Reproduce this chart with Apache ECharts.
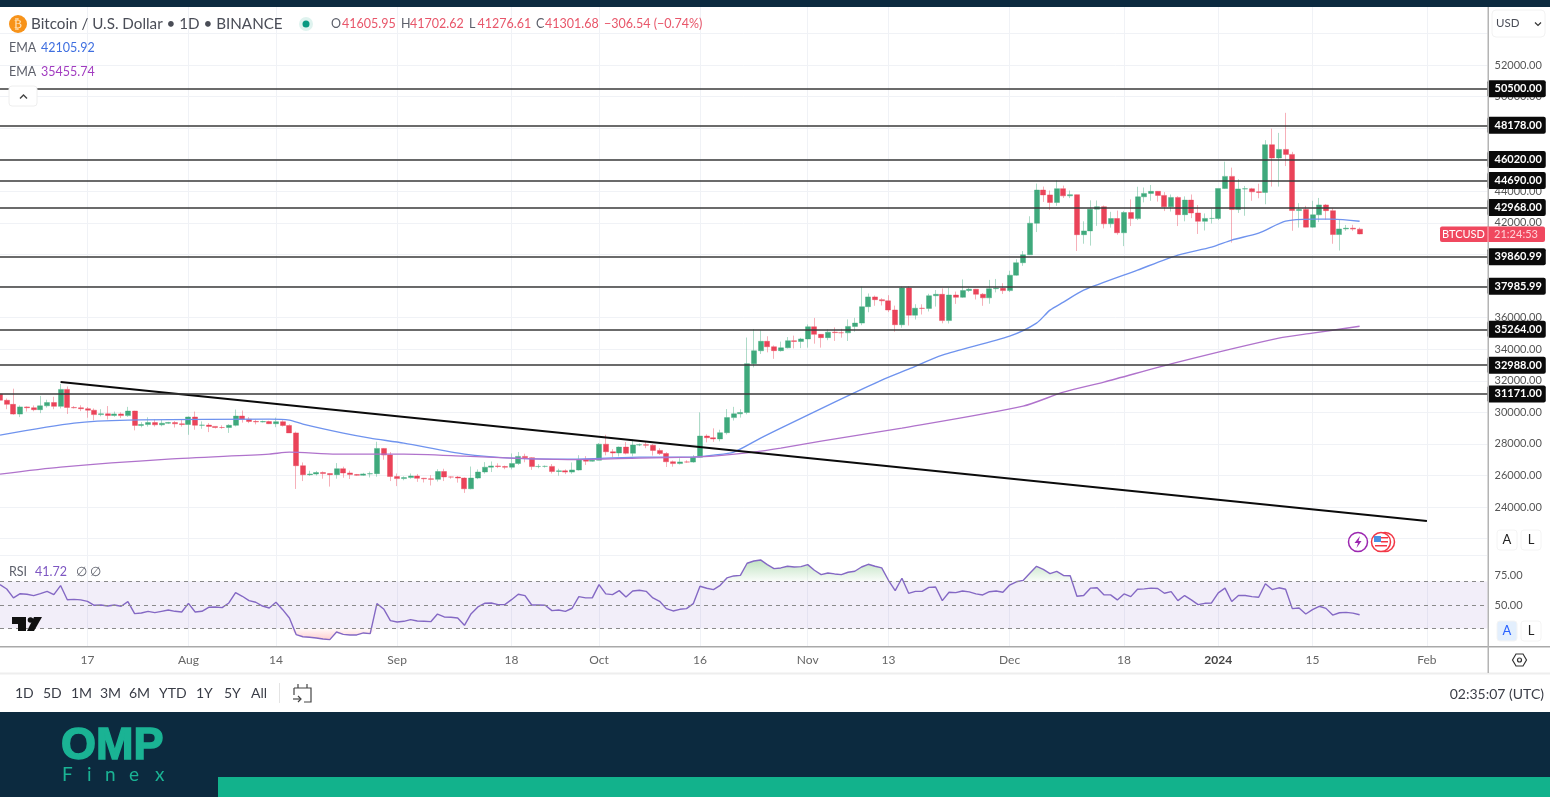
<!DOCTYPE html>
<html><head><meta charset="utf-8">
<style>html,body{margin:0;padding:0;background:#fff}#c{width:1550px;height:797px}</style>
<script src="https://cdn.jsdelivr.net/npm/echarts@6/dist/echarts.min.js"></script>
</head><body><div id="c"></div>
<script>
const firstDay = Date.UTC(2023, 6, 4);
const categoryCount = 222;
const tickLabels = {'2023-07-17':'17','2023-08-01':'Aug','2023-08-14':'14','2023-09-01':'Sep','2023-09-18':'18','2023-10-01':'Oct','2023-10-16':'16','2023-11-01':'Nov','2023-11-13':'13','2023-12-01':'Dec','2023-12-18':'18','2024-01-01':'2024','2024-01-15':'15','2024-02-01':'Feb'};
const priceGridlines = [22000,24000,26000,28000,30000,32000,34000,36000,38000,40000,42000,44000,46000,48000,50000,52000,54000];
const priceTicks = [24000,26000,28000,30000,32000,34000,36000,38000,40000,42000,44000,46000,48000,50000,52000];
const rsiTicks = [50,75];
const levels = [50500,48178,46020,44690,42968,39860.99,37985.99,35264,32988,31171];
const opens = [31155,30767,30508,29892,30347,30292,30171,30414,30620,30380,31454,30312,30289,30231,30138,29859,29909,29800,29901,29794,30083,29176,29228,29354,29212,29314,29352,29275,
29230,29705,29186,29193,29113,29042,29041,29180,29766,29563,29425,29397,29415,29283,29408,29170,28701,26622,26049,26096,26189,26124,26056,26432,26163,26059,26017,26101,26120,27716,27299,
25940,25805,25869,25971,25826,25792,25759,26255,25910,25901,25841,25162,25840,26223,26527,26608,26568,26527,26762,27211,27132,26567,26579,26579,26256,26298,26217,26352,27021,26911,
26967,27983,27505,27429,27799,27412,27931,27956,27917,27591,27392,26873,26756,26862,26852,27154,28500,28395,28320,28713,29669,29909,29992,33086,33901,34502,34156,33909,34089,34538,34491,
34650,35421,34941,34732,35082,35049,35037,35443,35655,36693,37313,37138,37065,36484,35550,37880,36154,36596,36585,37386,37476,35813,37432,37289,37720,37796,37479,37254,37831,37858,
37712,38688,39476,39978,41980,44080,43773,43293,44170,43713,43789,41253,41492,42869,43022,41941,42278,41374,42657,42271,43652,43869,43997,43739,43016,43613,42520,43442,42627,42099,42283,
42284,44179,44946,42845,44151,44162,43968,43930,46951,46110,46653,46339,42782,42847,41732,42511,43137,42776,41262,41618,41665,41605];
const closes = [30767,30508,29892,30347,30292,30171,30414,30620,30380,31454,30312,30289,30231,30138,29859,29909,29800,29901,29794,30083,29176,29228,29354,29212,29314,29352,29275,29230,
29705,29186,29193,29113,29042,29041,29180,29766,29563,29425,29397,29415,29283,29408,29170,28701,26622,26049,26096,26189,26124,26056,26432,26163,26059,26017,26101,26120,27716,27299,25940,
25805,25869,25971,25826,25792,25759,26255,25910,25901,25841,25162,25840,26223,26527,26608,26568,26527,26762,27211,27132,26567,26579,26579,26256,26298,26217,26352,27021,26911,26967,
27983,27505,27429,27799,27412,27931,27956,27917,27591,27392,26873,26756,26862,26852,27154,28500,28395,28320,28713,29669,29909,29992,33086,33901,34502,34156,33909,34089,34538,34491,34650,
35421,34941,34732,35082,35049,35037,35443,35655,36693,37313,37138,37065,36484,35550,37880,36154,36596,36585,37386,37476,35813,37432,37289,37720,37796,37479,37254,37831,37858,37712,
38688,39476,39978,41980,44080,43773,43293,44170,43713,43789,41253,41492,42869,43022,41941,42278,41374,42657,42271,43652,43869,43997,43739,43016,43613,42520,43442,42627,42099,42283,42284,
44179,44946,42845,44151,44162,43968,43930,46951,46110,46653,46339,42782,42847,41732,42511,43137,42776,41262,41618,41665,41608,41302];
const highs = [31325,30880,31500,30440,30380,30440,31040,30800,30990,31800,31640,30400,30450,30340,30250,30200,30400,30050,30000,30350,30100,29380,29690,29580,29520,29400,29450,29530,
29740,30050,29430,29320,29110,29180,29250,30180,30120,29700,29540,29480,29470,29670,29500,29240,28780,26830,26300,26290,26260,26140,26790,26560,26310,26100,26170,26250,28140,27580,27490,
26130,25950,26130,26100,25850,26020,26400,26430,25940,25970,25880,26570,26390,26850,26890,26775,26630,27400,27490,27380,27160,26720,26640,26730,26430,26390,26830,27290,27230,27090,
28060,28580,27670,27840,28120,28290,28030,28120,27990,27730,27480,26950,27100,26960,27290,30000,28610,28990,28900,30210,30350,30200,34740,35280,35200,34820,34240,34480,34770,34860,34720,
35570,35980,34920,35260,35380,35290,35890,35990,37970,37530,37400,37230,37420,36760,37970,37990,36850,36845,37510,37750,37850,37890,37650,38420,37890,37820,37560,38390,38450,38180,
38970,39700,40220,42420,44490,44300,44050,44700,44360,44050,43800,42100,43430,43420,43100,42700,42780,42760,43490,44290,44240,44400,44020,43950,43800,43690,43680,43800,43130,42600,42900,
44180,45880,45500,44770,44340,44220,44480,47240,47970,47700,48970,46500,43250,43080,43400,43580,43200,42930,42200,41870,41880,41703];
const lows = [30640,30200,29850,29700,30050,30070,29950,30300,30200,30250,29900,30250,30080,29660,29500,29750,29550,29720,29640,29720,28860,29050,29100,29100,29120,29260,29040,29100,
28580,28900,28960,28750,28980,28960,28700,29110,29350,29320,29240,29360,29260,29060,29100,28700,25150,25650,25980,26000,25800,25300,25800,25860,25780,25980,25980,25880,25920,27000,25650,
25330,25700,25800,25600,25560,25370,25620,25650,25800,25550,24900,25130,25770,26120,26220,26470,26400,26390,26670,26840,26360,26460,26500,26130,25990,26090,26110,26320,26670,26880,
26960,27280,27160,27210,27340,27220,27860,27730,27260,27300,26540,26560,26700,26810,26810,27130,28100,28130,28170,28600,29480,29670,29880,32850,33700,33800,33390,33850,34050,34050,34070,
34100,34350,34100,34570,34525,34730,34520,35110,35520,36340,36750,36770,36350,35110,35360,35500,35880,36200,36390,36700,35640,35630,36870,37250,37620,37150,36750,36880,37600,37500,
37620,38650,39280,39970,41420,43330,42820,43080,43580,43570,40220,40680,40560,41810,41650,41700,41250,40530,41800,42180,43300,43400,43350,42750,42720,41800,42100,42300,41300,41520,41960,
42180,44150,40750,42630,42450,43400,43560,43180,44300,44300,45600,41500,41700,41720,41700,42050,42200,40680,40250,41500,41500,41277];
const emaFastDates = ['2023-07-04','2023-07-15','2023-07-23','2023-08-13','2023-08-16','2023-08-18','2023-08-24','2023-08-28','2023-09-02','2023-09-11','2023-09-18','2023-09-27','2023-10-07','2023-10-15','2023-10-18','2023-10-21','2023-10-25','2023-10-28','2023-11-05','2023-11-12','2023-11-16','2023-11-21','2023-12-01','2023-12-05','2023-12-07','2023-12-09','2023-12-12','2023-12-20','2023-12-26','2023-12-31','2024-01-03','2024-01-07','2024-01-11','2024-01-15','2024-01-18','2024-01-22'];
const emaFastValues = [28560,29320,29510,29573,29510,29256,28686,28370,28053,27357,27103,27040,27167,27167,27293,27483,28370,29003,30650,32043,32740,33626,34830,35653,36476,36983,37743,39010,39960,40466,40910,41352,42112,42240,42240,42106];
const emaSlowDates = ['2023-07-04','2023-07-13','2023-07-29','2023-08-13','2023-08-16','2023-08-23','2023-09-02','2023-09-11','2023-09-18','2023-09-27','2023-10-07','2023-10-15','2023-10-18','2023-10-24','2023-10-28','2023-11-03','2023-11-15','2023-12-03','2023-12-09','2023-12-15','2023-12-26','2024-01-10','2024-01-15','2024-01-22'];
const emaSlowValues = [26090,26533,27040,27357,27483,27357,27357,27230,27103,27010,27103,27167,27230,27483,27737,28180,29003,30396,31283,31916,33183,34703,35020,35456];
const trendDates = ['2023-07-13','2024-02-01'];
const trendValues = [31916,23113];
const rsiValues = [67.3,63.6,56,59.6,59.1,57.9,59.6,61.6,58.8,66.5,54.5,54.8,54.3,53.1,49.7,50,49.1,50,48.9,52.8,42.6,43.2,44.6,43.5,44.6,45.7,44.6,44,
51.4,44,44.6,48,48.3,47.7,51.7,60.5,57.4,53.7,52.3,49.1,47.4,52.3,46,38.9,24.8,23,22.5,21.9,21.1,20.5,27,25,24.5,24.5,26.2,25.6,51.1,46.6,36.7,35.5,
36.1,37.5,36.4,36.1,35.8,42.3,39.8,39.5,38.9,32.7,42.6,48.3,51.4,51.7,50.3,50.3,54.5,59.1,57.9,50,50,49.7,45.2,45.7,44.6,47.2,57.1,56,56,
67.3,59.4,58.8,62.2,56.8,61.9,62.5,61.6,56,53.1,46.9,44.9,46.3,46.9,51.1,65.9,64.2,63,66.7,73,74.7,75.2,85.5,87.4,88.3,84.3,80.9,81.5,82.9,82.3,82.6,84.3,
79.5,75.8,77.2,76.4,75.8,77.8,78.7,82.3,84.6,82.9,81.5,71,62.2,72.7,59.9,61.6,61.6,65,65.3,53.7,60.8,60.5,61.9,61.1,59.4,58.5,61.3,61.9,60.8,
66.9,69.7,70.9,76.9,82.9,80.3,76.6,78.6,75.1,74.9,57.4,58,64.3,64.6,58.6,58.6,54.3,59.4,57.1,63.4,63.7,64.3,64,60,61.4,53.7,58,54.3,50.3,51.4,51.7,
60.3,64.3,52.9,58,58,57.1,56.6,68,63.1,64.6,63.4,46.9,47.4,42.3,46,48.9,47.1,41.4,43.4,43.7,43.1,41.72];
const rsiBands = [70,50,30];

const categories = [];
for (let i = 0; i < categoryCount; i++) categories.push(new Date(firstDay + i * 864e5).toISOString().slice(0, 10));
const candles = opens.map((o, i) => [o, closes[i], lows[i], highs[i]]);
const pairs = (d, v) => d.map((x, i) => [x, v[i]]);
const rsiEdge = (test, bound) => rsiValues.map((v, i) => test(v) ? v : ((test(rsiValues[i-1]) || test(rsiValues[i+1])) ? bound : null));
const isTick = (i, v) => tickLabels[v] !== undefined;

const NAVY = '#0c2a3f', TEAL = '#12b28c', FONT = 'Lato', GREY = '#5d606b';
const txt = (x, y, text, fill, size, extra) => ({type:'text', silent:true, style:Object.assign({x, y, text, fill, font:`${size}px ${FONT}`, verticalAlign:'middle', align:'left'}, extra||{})});
const rect = (x, y, w, h, fill, r, stroke) => ({type:'rect', silent:true, shape:{x, y, width:w, height:h, r:r||0}, style:{fill, stroke:stroke||null}});
const line = (pts, stroke, w) => ({type:'polyline', silent:true, shape:{points:pts}, style:{stroke, lineWidth:w||1, fill:null}});
const circle = (cx, cy, r, fill, stroke, w) => ({type:'circle', silent:true, shape:{cx, cy, r}, style:{fill, stroke:stroke||null, lineWidth:w||1}});
const poly = (pts, fill) => ({type:'polygon', silent:true, shape:{points:pts}, style:{fill}});
const btn = (x, y, label, bg, fg) => [rect(x, y, 20, 20, bg, 3, '#f4f4f4'), txt(x+10, y+10, label, fg, 13, {align:'center'})];

const chrome = [
  rect(0, 0, 1550, 7, NAVY),
  rect(0, 712, 1550, 85, NAVY),
  rect(218, 777, 1332, 20, TEAL),
  rect(0, 555, 1487, 1, '#f0f2f6'),
  rect(0, 646, 1550, 1.5, '#a9a9a9'),
  rect(0, 672.5, 1550, 2, '#eeeeee'),
  rect(1487.5, 7, 1.5, 666, '#b4b4b4'),
  circle(18, 24, 9, '#f7931a'),
  txt(18, 24.5, '₿', '#ffe6c0', 12, {align:'center'}),
  txt(31, 24, 'Bitcoin / U.S. Dollar • 1D • BINANCE', '#4a4d57', 15.2),
  circle(306, 24, 7, '#dff3ef'), circle(306, 24, 3.5, '#089981'),
  txt(331, 24, 'O', GREY, 12.5), txt(342, 24, '41605.95', '#e8566a', 12.5),
  txt(401, 24, 'H', GREY, 12.5), txt(410, 24, '41702.62', '#e8566a', 12.5),
  txt(469, 24, 'L', GREY, 12.5), txt(477.5, 24, '41276.61', '#e8566a', 12.5),
  txt(536, 24, 'C', GREY, 12.5), txt(545, 24, '41301.68', '#e8566a', 12.5),
  txt(604, 24, '−306.54 (−0.74%)', '#e8566a', 12.5),
  txt(9, 48, 'EMA', GREY, 12.5), txt(41, 48, '42105.92', '#3f6fe0', 12.5),
  txt(9, 72, 'EMA', GREY, 12.5), txt(41, 72, '35455.74', '#a23cc0', 12.5),
  rect(9, 86, 28, 20, '#ffffff', 3, '#eeeeee'),
  line([[20, 98.5],[23.5, 95],[27, 98.5]], '#444', 1.4),
  txt(9, 572, 'RSI', GREY, 12.5), txt(35, 572, '41.72', '#7e57c2', 12.5),
  txt(76, 572, '∅', GREY, 12.5), txt(90, 572, '∅', GREY, 12.5),
  rect(1492, 10, 53, 27, '#ffffff', 4, '#f2f2f2'),
  txt(1496, 23.5, 'USD', '#4a4d57', 11.5),
  line([[1535, 22.5],[1538, 25.5],[1541, 22.5]], '#333', 1.2),
  ...btn(1497, 530, 'A', '#ffffff', '#222'),
  ...btn(1521, 530, 'L', '#ffffff', '#222'),
  ...btn(1497, 621, 'A', '#e3effd', '#2962ff'),
  ...btn(1521, 621, 'L', '#ffffff', '#222'),
  {type:'polygon', silent:true, shape:{points:[[1512.5,660],[1516,654],[1523,654],[1526.5,660],[1523,666],[1516,666]]}, style:{fill:null, stroke:'#333', lineWidth:1.2}},
  circle(1519.5, 660, 2, null, '#333', 1.2),
  poly([[12,617],[26,617],[26,631],[18,631],[18,624],[12,624]], '#111'),
  circle(30.5, 620, 2.8, '#111'),
  poly([[34,617],[42,617],[34,631],[27,631]], '#111'),
  circle(1385, 542, 9.5, '#fff', '#f23645', 1.5),
  circle(1381, 542, 9.5, '#fff', '#f23645', 1.5),
  rect(1374, 536, 7, 6, '#4a90e2'),
  rect(1381, 537, 7, 1.5, '#f23645'), rect(1381, 541, 7, 1.5, '#f23645'), rect(1375, 545, 12, 1.5, '#f23645'),
  circle(1358, 542, 9.5, '#fff', '#9c27b0', 1.5),
  poly([[1360,536],[1354.5,543],[1358,543],[1356.5,548],[1361.5,541],[1358.5,541]], '#9c27b0'),
  rect(1440, 226.5, 105, 15.5, '#f0485f', 2),
  rect(1487.5, 226.5, 1, 15.5, '#ffb3bd'),
  txt(1463.5, 234.5, 'BTCUSD', '#ffffff', 11, {align:'center'}),
  txt(1516, 234.5, '21:24:53', '#ffd3d9', 11, {align:'center'}),
  txt(15, 693.5, '1D', '#3a3d47', 14), txt(43, 693.5, '5D', '#3a3d47', 14), txt(71, 693.5, '1M', '#3a3d47', 14),
  txt(100, 693.5, '3M', '#3a3d47', 14), txt(129, 693.5, '6M', '#3a3d47', 14), txt(159, 693.5, 'YTD', '#3a3d47', 14),
  txt(196, 693.5, '1Y', '#3a3d47', 14), txt(224, 693.5, '5Y', '#3a3d47', 14), txt(251, 693.5, 'All', '#3a3d47', 14),
  rect(279, 683, 1, 20, '#e4e4e4'),
  line([[294,688],[311,688],[311,702],[304,702]], '#444', 1.2),
  line([[294,688],[294,695]], '#444', 1.2),
  line([[293,699],[301,699]], '#444', 1.2),
  line([[298,696],[301,699],[298,702]], '#444', 1.2),
  line([[298,684],[298,688]], '#444', 1.2), line([[307,684],[307,688]], '#444', 1.2),
  txt(1544, 694, '02:35:07 (UTC)', '#3a3d47', 14, {align:'right'}),
  txt(61, 747, 'OMP', '#1ab394', 1, {font:'bold 45px "Liberation Sans"', stroke:'#1ab394', lineWidth:1.5}),
  txt(62, 775, 'F', '#1ab394', 19), txt(87, 775, 'i', '#1ab394', 19), txt(105, 775, 'n', '#1ab394', 19), txt(129, 775, 'e', '#1ab394', 19), txt(155, 775, 'x', '#1ab394', 19)
].map(e => Object.assign(e, {z:100}));

const splitColor = '#f0f2f6';
const option = {
  animation:false, backgroundColor:'#ffffff', textStyle:{fontFamily:FONT},
  grid:[{left:0, top:7, width:1487.5, height:548}, {left:0, top:555, width:1487.5, height:91}],
  xAxis:[
    {type:'category', gridIndex:0, data:categories, boundaryGap:false, axisLine:{show:false}, axisTick:{show:false}, axisLabel:{show:false, interval:isTick}, splitLine:{show:true, interval:isTick, lineStyle:{color:splitColor}}},
    {type:'category', gridIndex:1, data:categories, boundaryGap:false, axisLine:{show:false}, axisTick:{show:false},
      axisLabel:{show:true, interval:isTick, margin:8, color:'#666', fontSize:12, formatter:v=>{const t=tickLabels[v]; return t==='2024'?'{b|2024}':(t||'');}, rich:{b:{fontWeight:'bold', color:'#444', fontSize:12, fontFamily:FONT}}},
      splitLine:{show:true, interval:isTick, lineStyle:{color:splitColor}}}
  ],
  yAxis:[
    {type:'value', gridIndex:0, position:'right', min:20967, max:55673, axisLine:{show:false}, axisTick:{show:false, customValues:priceGridlines},
      axisLabel:{customValues:priceTicks, color:'#555', fontSize:11, margin:7, formatter:v=>v.toFixed(2), showMinLabel:true, showMaxLabel:true},
      splitLine:{show:true, lineStyle:{color:splitColor}}},
    {type:'value', gridIndex:1, position:'right', min:15.1, max:92.5, axisLine:{show:false}, axisTick:{show:false, customValues:rsiTicks},
      axisLabel:{customValues:rsiTicks, color:'#555', fontSize:11, margin:7, formatter:v=>v.toFixed(2)},
      splitLine:{show:false}}
  ],
  series:[
    {type:'candlestick', name:'BTCUSD', xAxisIndex:0, yAxisIndex:0, z:2, barWidth:5.5, data:candles, silent:true,
      itemStyle:{color:'#3fa97c', color0:'#ea4359', borderColor:'rgba(63,169,124,0.42)', borderColor0:'rgba(234,67,89,0.42)', borderWidth:1}},
    {type:'line', name:'EMA fast', xAxisIndex:0, yAxisIndex:0, z:3, data:pairs(emaFastDates, emaFastValues), showSymbol:false, silent:true, smooth:0.25, lineStyle:{color:'#6f93ee', width:1.4}},
    {type:'line', name:'EMA slow', xAxisIndex:0, yAxisIndex:0, z:3, data:pairs(emaSlowDates, emaSlowValues), showSymbol:false, silent:true, smooth:0.25, lineStyle:{color:'#b073cc', width:1.4}},
    {type:'line', name:'Levels', xAxisIndex:0, yAxisIndex:0, z:4, data:[], silent:true,
      markLine:{silent:true, z:20, symbol:'none', precision:2, animation:false, data:levels.map(v=>({yAxis:v})),
        lineStyle:{color:'#3a3a3a', width:1.5, type:'solid'},
        label:{show:true, position:'end', distance:0, formatter:p=>Number(p.value).toFixed(2), color:'#ffffff', backgroundColor:'#0a0a0a', padding:[3,4,3,7], borderRadius:2, fontSize:11, fontWeight:'bold', fontFamily:FONT}}},
    {type:'line', name:'Trend', xAxisIndex:0, yAxisIndex:0, z:5, data:pairs(trendDates, trendValues), showSymbol:false, silent:true, lineStyle:{color:'#0b0b0b', width:2}},
    {type:'line', name:'RSI', xAxisIndex:1, yAxisIndex:1, z:4, data:rsiValues, showSymbol:false, silent:true, lineStyle:{color:'#8468c4', width:1.4},
      markArea:{silent:true, itemStyle:{color:'rgba(126,87,194,0.1)'}, data:[[{yAxis:rsiBands[0]},{yAxis:rsiBands[2]}]]},
      markLine:{silent:true, symbol:'none', label:{show:false}, lineStyle:{color:'#8a8a8a', width:1, type:[4,4]}, data:rsiBands.map(v=>({yAxis:v}))}},
    {type:'line', name:'Overbought', xAxisIndex:1, yAxisIndex:1, z:3, data:rsiEdge(v=>v>70, 70), showSymbol:false, silent:true, lineStyle:{width:0}, connectNulls:false,
      areaStyle:{origin:70, color:new echarts.graphic.LinearGradient(0,0,0,1,[{offset:0,color:'rgba(76,175,80,0.5)'},{offset:1,color:'rgba(76,175,80,0.04)'}])}},
    {type:'line', name:'Oversold', xAxisIndex:1, yAxisIndex:1, z:3, data:rsiEdge(v=>v<30, 30), showSymbol:false, silent:true, lineStyle:{width:0}, connectNulls:false,
      areaStyle:{origin:30, color:new echarts.graphic.LinearGradient(0,0,0,1,[{offset:0,color:'rgba(255,82,82,0.04)'},{offset:1,color:'rgba(255,82,82,0.4)'}])}}
  ],
  graphic:{elements:chrome}
};
const chart = echarts.init(document.getElementById('c'), null, {renderer:'canvas', width:1550, height:797});
chart.setOption(option);
</script></body></html>
